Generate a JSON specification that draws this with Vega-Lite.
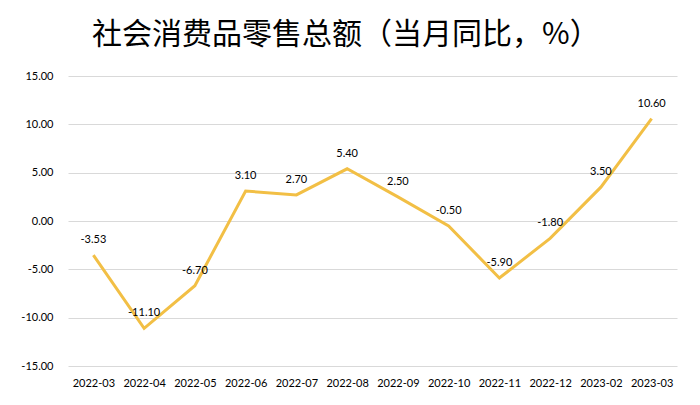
{
  "$schema": "https://vega.github.io/schema/vega-lite/v6.json",
  "width": 609,
  "height": 290,
  "autosize": "none",
  "padding": {"left": 68, "top": 76, "right": 23, "bottom": 39},
  "background": "white",
  "title": {
    "text": "社会消费品零售总额（当月同比，%）",
    "anchor": "start",
    "frame": "group",
    "font": "Noto Sans CJK SC",
    "fontSize": 30,
    "fontWeight": "normal",
    "color": "#000000",
    "offset": 20,
    "dx": 24
  },
  "data": {
    "values": [
      {"month": "2022-03", "value": -3.53, "label": "-3.53"},
      {"month": "2022-04", "value": -11.10, "label": "-11.10"},
      {"month": "2022-05", "value": -6.70, "label": "-6.70"},
      {"month": "2022-06", "value": 3.10, "label": "3.10"},
      {"month": "2022-07", "value": 2.70, "label": "2.70"},
      {"month": "2022-08", "value": 5.40, "label": "5.40"},
      {"month": "2022-09", "value": 2.50, "label": "2.50"},
      {"month": "2022-10", "value": -0.50, "label": "-0.50"},
      {"month": "2022-11", "value": -5.90, "label": "-5.90"},
      {"month": "2022-12", "value": -1.80, "label": "-1.80"},
      {"month": "2023-02", "value": 3.50, "label": "3.50"},
      {"month": "2023-03", "value": 10.60, "label": "10.60"}
    ]
  },
  "encoding": {
    "x": {
      "field": "month",
      "type": "ordinal",
      "sort": null,
      "scale": {"type": "point", "padding": 0.5},
      "axis": {
        "title": null,
        "labelAngle": 0,
        "domain": false,
        "ticks": false,
        "labelFont": "Lato",
        "labelFontSize": 11,
        "labelColor": "#000000",
        "labelPadding": 11
      }
    },
    "y": {
      "field": "value",
      "type": "quantitative",
      "scale": {"domain": [-15, 15], "nice": false},
      "axis": {
        "title": null,
        "values": [-15, -10, -5, 0, 5, 10, 15],
        "format": ".2f",
        "labelExpr": "replace(datum.label, '−', '-')",
        "domain": false,
        "ticks": false,
        "grid": true,
        "gridColor": "#d9d9d9",
        "gridWidth": 1,
        "labelFont": "Lato",
        "labelFontSize": 11,
        "labelColor": "#000000",
        "labelPadding": 15
      }
    }
  },
  "layer": [
    {
      "mark": {"type": "line", "color": "#F2BF45", "strokeWidth": 3, "strokeJoin": "miter"}
    },
    {
      "mark": {"type": "text", "dy": -15, "font": "Lato", "fontSize": 11, "color": "#000000"},
      "encoding": {
        "text": {"field": "label", "type": "nominal"}
      }
    }
  ],
  "config": {"view": {"stroke": null}}
}
